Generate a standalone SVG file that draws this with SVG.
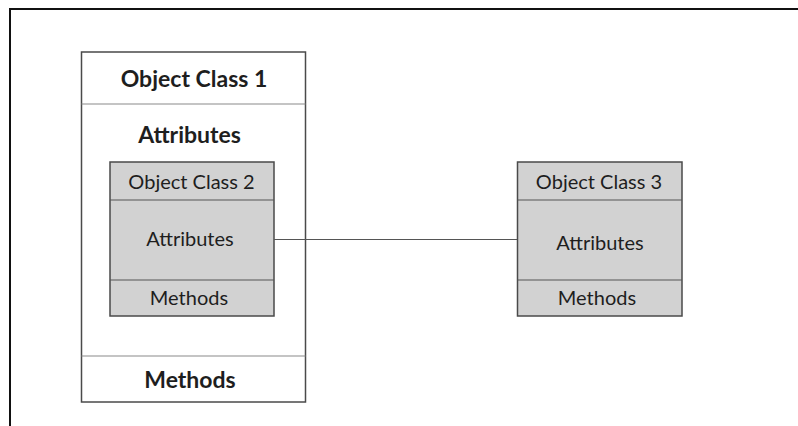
<svg xmlns="http://www.w3.org/2000/svg" width="798" height="426" viewBox="0 0 798 426">
  <style>
    .frame { fill: none; stroke: #111; stroke-width: 2; }
    .outer { fill: #fff; stroke: #4a4a4a; stroke-width: 1.5; }
    .box { fill: #d2d2d2; stroke: #4a4a4a; stroke-width: 1.5; }
    .div1 { stroke: #8a8a8a; stroke-width: 1.2; }
    .div2 { stroke: #555; stroke-width: 1.2; }
    .conn { stroke: #555; stroke-width: 1.2; fill: none; }
    text { font-family: Lato, "Liberation Sans", sans-serif; fill: #1e1e1e; text-anchor: middle; }
    .bold { font-weight: bold; font-size: 23px; }
    .reg { font-size: 20px; }
  </style>
  <rect width="798" height="426" fill="#fff"/>
  <!-- page frame, running off the right and bottom edges -->
  <path class="frame" d="M10,430 V9 H800"/>

  <g id="class1">
    <rect class="outer" x="81.5" y="52" width="224" height="350"/>
    <line class="div1" x1="81.5" y1="104" x2="305.5" y2="104"/>
    <line class="div1" x1="81.5" y1="356" x2="305.5" y2="356"/>
    <text class="bold" x="194" y="87">Object Class 1</text>
    <text class="bold" x="189.5" y="143">Attributes</text>
    <text class="bold" x="190" y="388">Methods</text>
  </g>

  <g id="class2">
    <rect class="box" x="110" y="162" width="164" height="154"/>
    <line class="div2" x1="110" y1="200" x2="274" y2="200"/>
    <line class="div2" x1="110" y1="280" x2="274" y2="280"/>
    <text class="reg" x="191.5" y="189">Object Class 2</text>
    <text class="reg" x="190" y="246">Attributes</text>
    <text class="reg" x="189" y="305">Methods</text>
  </g>

  <g id="class3">
    <rect class="box" x="517.5" y="162" width="164.5" height="154"/>
    <line class="div2" x1="517.5" y1="200" x2="682" y2="200"/>
    <line class="div2" x1="517.5" y1="280" x2="682" y2="280"/>
    <text class="reg" x="599" y="189">Object Class 3</text>
    <text class="reg" x="600" y="250">Attributes</text>
    <text class="reg" x="597" y="305">Methods</text>
  </g>

  <g id="connectors">
    <line class="conn" x1="274" y1="239.5" x2="517" y2="239.5"/>
  </g>
</svg>
